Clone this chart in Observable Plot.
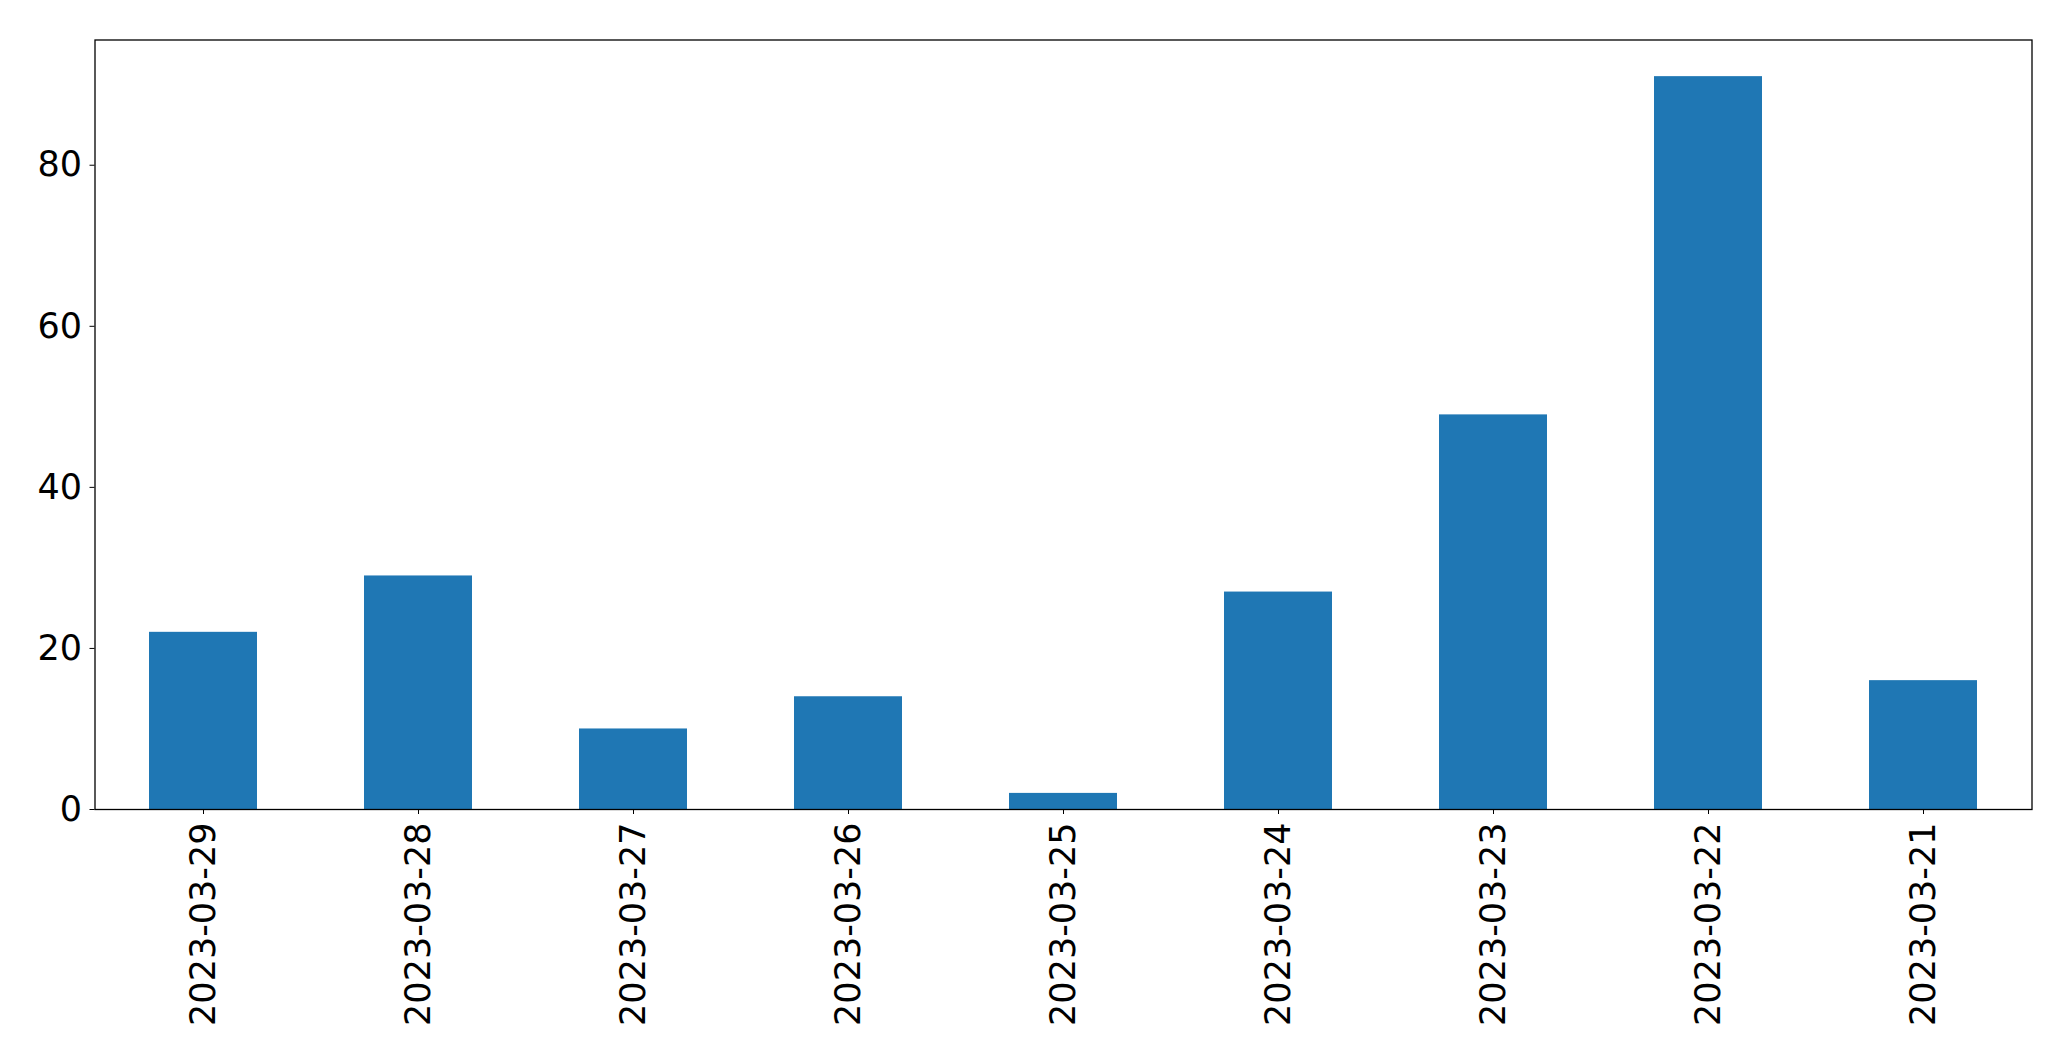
<!DOCTYPE html>
<html>
<head>
<meta charset="utf-8">
<script src="https://cdn.jsdelivr.net/npm/d3@7"></script>
<script src="https://cdn.jsdelivr.net/npm/@observablehq/plot@0.6"></script>
<style>
  html, body { margin: 0; padding: 0; background: #fff; }
  #chart svg { display: block; }
</style>
</head>
<body>
<div id="chart"></div>
<script>
const dates = ["2023-03-29","2023-03-28","2023-03-27","2023-03-26","2023-03-25","2023-03-24","2023-03-23","2023-03-22","2023-03-21"];
const counts = [22, 29, 10, 14, 2, 27, 49, 91, 16];
const yTicks = [0, 20, 40, 60, 80];

const data = dates.map((d, i) => ({date: d, count: counts[i]}));
const maxV = d3.max(counts);

const chart = Plot.plot({
  width: 2071,
  height: 1061,
  marginLeft: 94.5,
  marginRight: 39.5,
  marginTop: 39.5,
  marginBottom: 252,
  style: {fontFamily: "DejaVu Sans", fontSize: "35px", color: "#000", background: "#fff"},
  x: {domain: dates, paddingInner: 0.5, paddingOuter: 0.25, label: null},
  y: {domain: [0, maxV * 1.05], label: null},
  marks: [
    Plot.barY(data, {x: "date", y: "count", fill: "#1f77b4"}),
    Plot.frame({stroke: "#000", strokeWidth: 1.3}),
    Plot.axisY({ticks: yTicks, tickSize: 5, tickPadding: 8, fontSize: 35, label: null, tickFormat: d => d}),
    Plot.axisX({tickRotate: -90, tickSize: 5, tickPadding: 8, fontSize: 35, label: null})
  ]
});
document.getElementById("chart").appendChild(chart);
</script>
</body>
</html>
